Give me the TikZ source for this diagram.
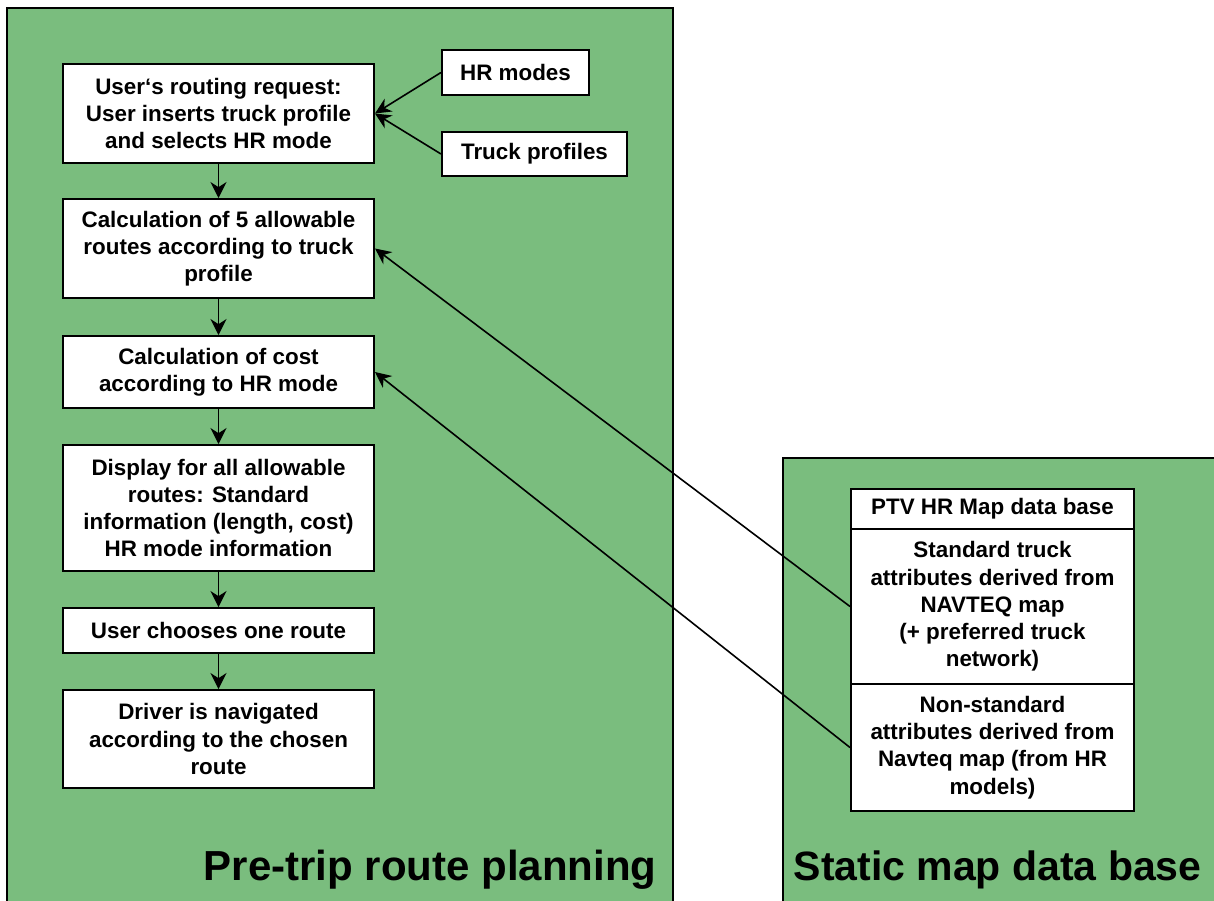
\documentclass[tikz,border=0pt]{standalone}
\usepackage{fontspec}
\setmainfont{Liberation Sans}
\usetikzlibrary{arrows.meta}
\definecolor{panelgreen}{RGB}{122,189,126}
\tikzset{
  panel/.style={fill=panelgreen, draw=black, line width=0.8pt},
  box/.style={draw=black, fill=white, line width=1pt, inner sep=0pt, align=center,
    font=\fontsize{11.2}{13.6}\selectfont\bfseries},
  arr/.style={draw=black, line width=0.8pt, -{Stealth[length=8pt,width=8pt,inset=2.6pt]}},
  conn/.style={draw=black, line width=0.8pt, -{Stealth[length=8pt,width=7.5pt,inset=2.6pt]}},
  title/.style={font=\fontsize{21}{24}\selectfont\bfseries, inner sep=0pt}
}
\begin{document}
\begin{tikzpicture}[x=0.5pt,y=-0.5pt]
\useasboundingbox (0,0) rectangle (1214,900);
\clip (0,0) rectangle (1214,900);
% panels
\path[panel] (7,8) rectangle (673,920);
\path[panel] (783,458) rectangle (1230,920);
% left flow boxes
\node[box, minimum width=155.5pt, minimum height=49.5pt] (b1) at (218.5,113.5)
  {User‘s routing request:\\User inserts truck profile\\and selects HR mode};
\node[box, minimum width=155.5pt, minimum height=49.5pt] (b2) at (218.5,248.5)
  {Calculation of 5 allowable\\routes according to truck\\profile};
\node[box, minimum width=155.5pt, minimum height=36pt] (b3) at (218.5,372)
  {Calculation of cost\\according to HR mode};
\node[box, minimum width=155.5pt, minimum height=63pt] (b4) at (218.5,508)
  {Display for all allowable\\routes: Standard\\information (length, cost)\\HR mode information};
\node[box, minimum width=155.5pt, minimum height=22.5pt] (b5) at (218.5,630.5)
  {User chooses one route};
\node[box, minimum width=155.5pt, minimum height=49pt] (b6) at (218.5,739)
  {Driver is navigated\\according to the chosen\\route};
% inputs
\node[box, minimum width=73.5pt, minimum height=22.5pt] (hr) at (515.5,72.5) {HR modes};
\node[box, minimum width=92.5pt, minimum height=22pt] (tp) at (534.5,154) {Truck profiles};
% database
\node[box, minimum width=141.5pt, minimum height=20pt] (dbh) at (992.5,509) {PTV HR Map data base};
\node[box, minimum width=141.5pt, minimum height=77.5pt] (dbs) at (992.5,606.5)
  {Standard truck\\attributes derived from\\NAVTEQ map\\(+ preferred truck\\network)};
\node[box, minimum width=141.5pt, minimum height=63.5pt] (dbn) at (992.5,747.5)
  {Non-standard\\attributes derived from\\Navteq map (from HR\\models)};
% flow arrows
\draw[arr] (b1.south) -- (b2.north);
\draw[arr] (b2.south) -- (b3.north);
\draw[arr] (b3.south) -- (b4.north);
\draw[arr] (b4.south) -- (b5.north);
\draw[arr] (b5.south) -- (b6.north);
\draw[conn] (hr.west) -- (b1.east);
\draw[conn] (tp.west) -- (b1.east);
\draw[conn] (dbs.west) -- (b2.east);
\draw[conn] (dbn.west) -- (b3.east);
% titles
\node[title, anchor=base east] (t1) at (657,880) {Pre-trip route planning};
\node[title, anchor=base east, font=\fontsize{20.5}{24}\selectfont\bfseries] (t2) at (1202,880) {Static map data base};
\end{tikzpicture}
\end{document}
